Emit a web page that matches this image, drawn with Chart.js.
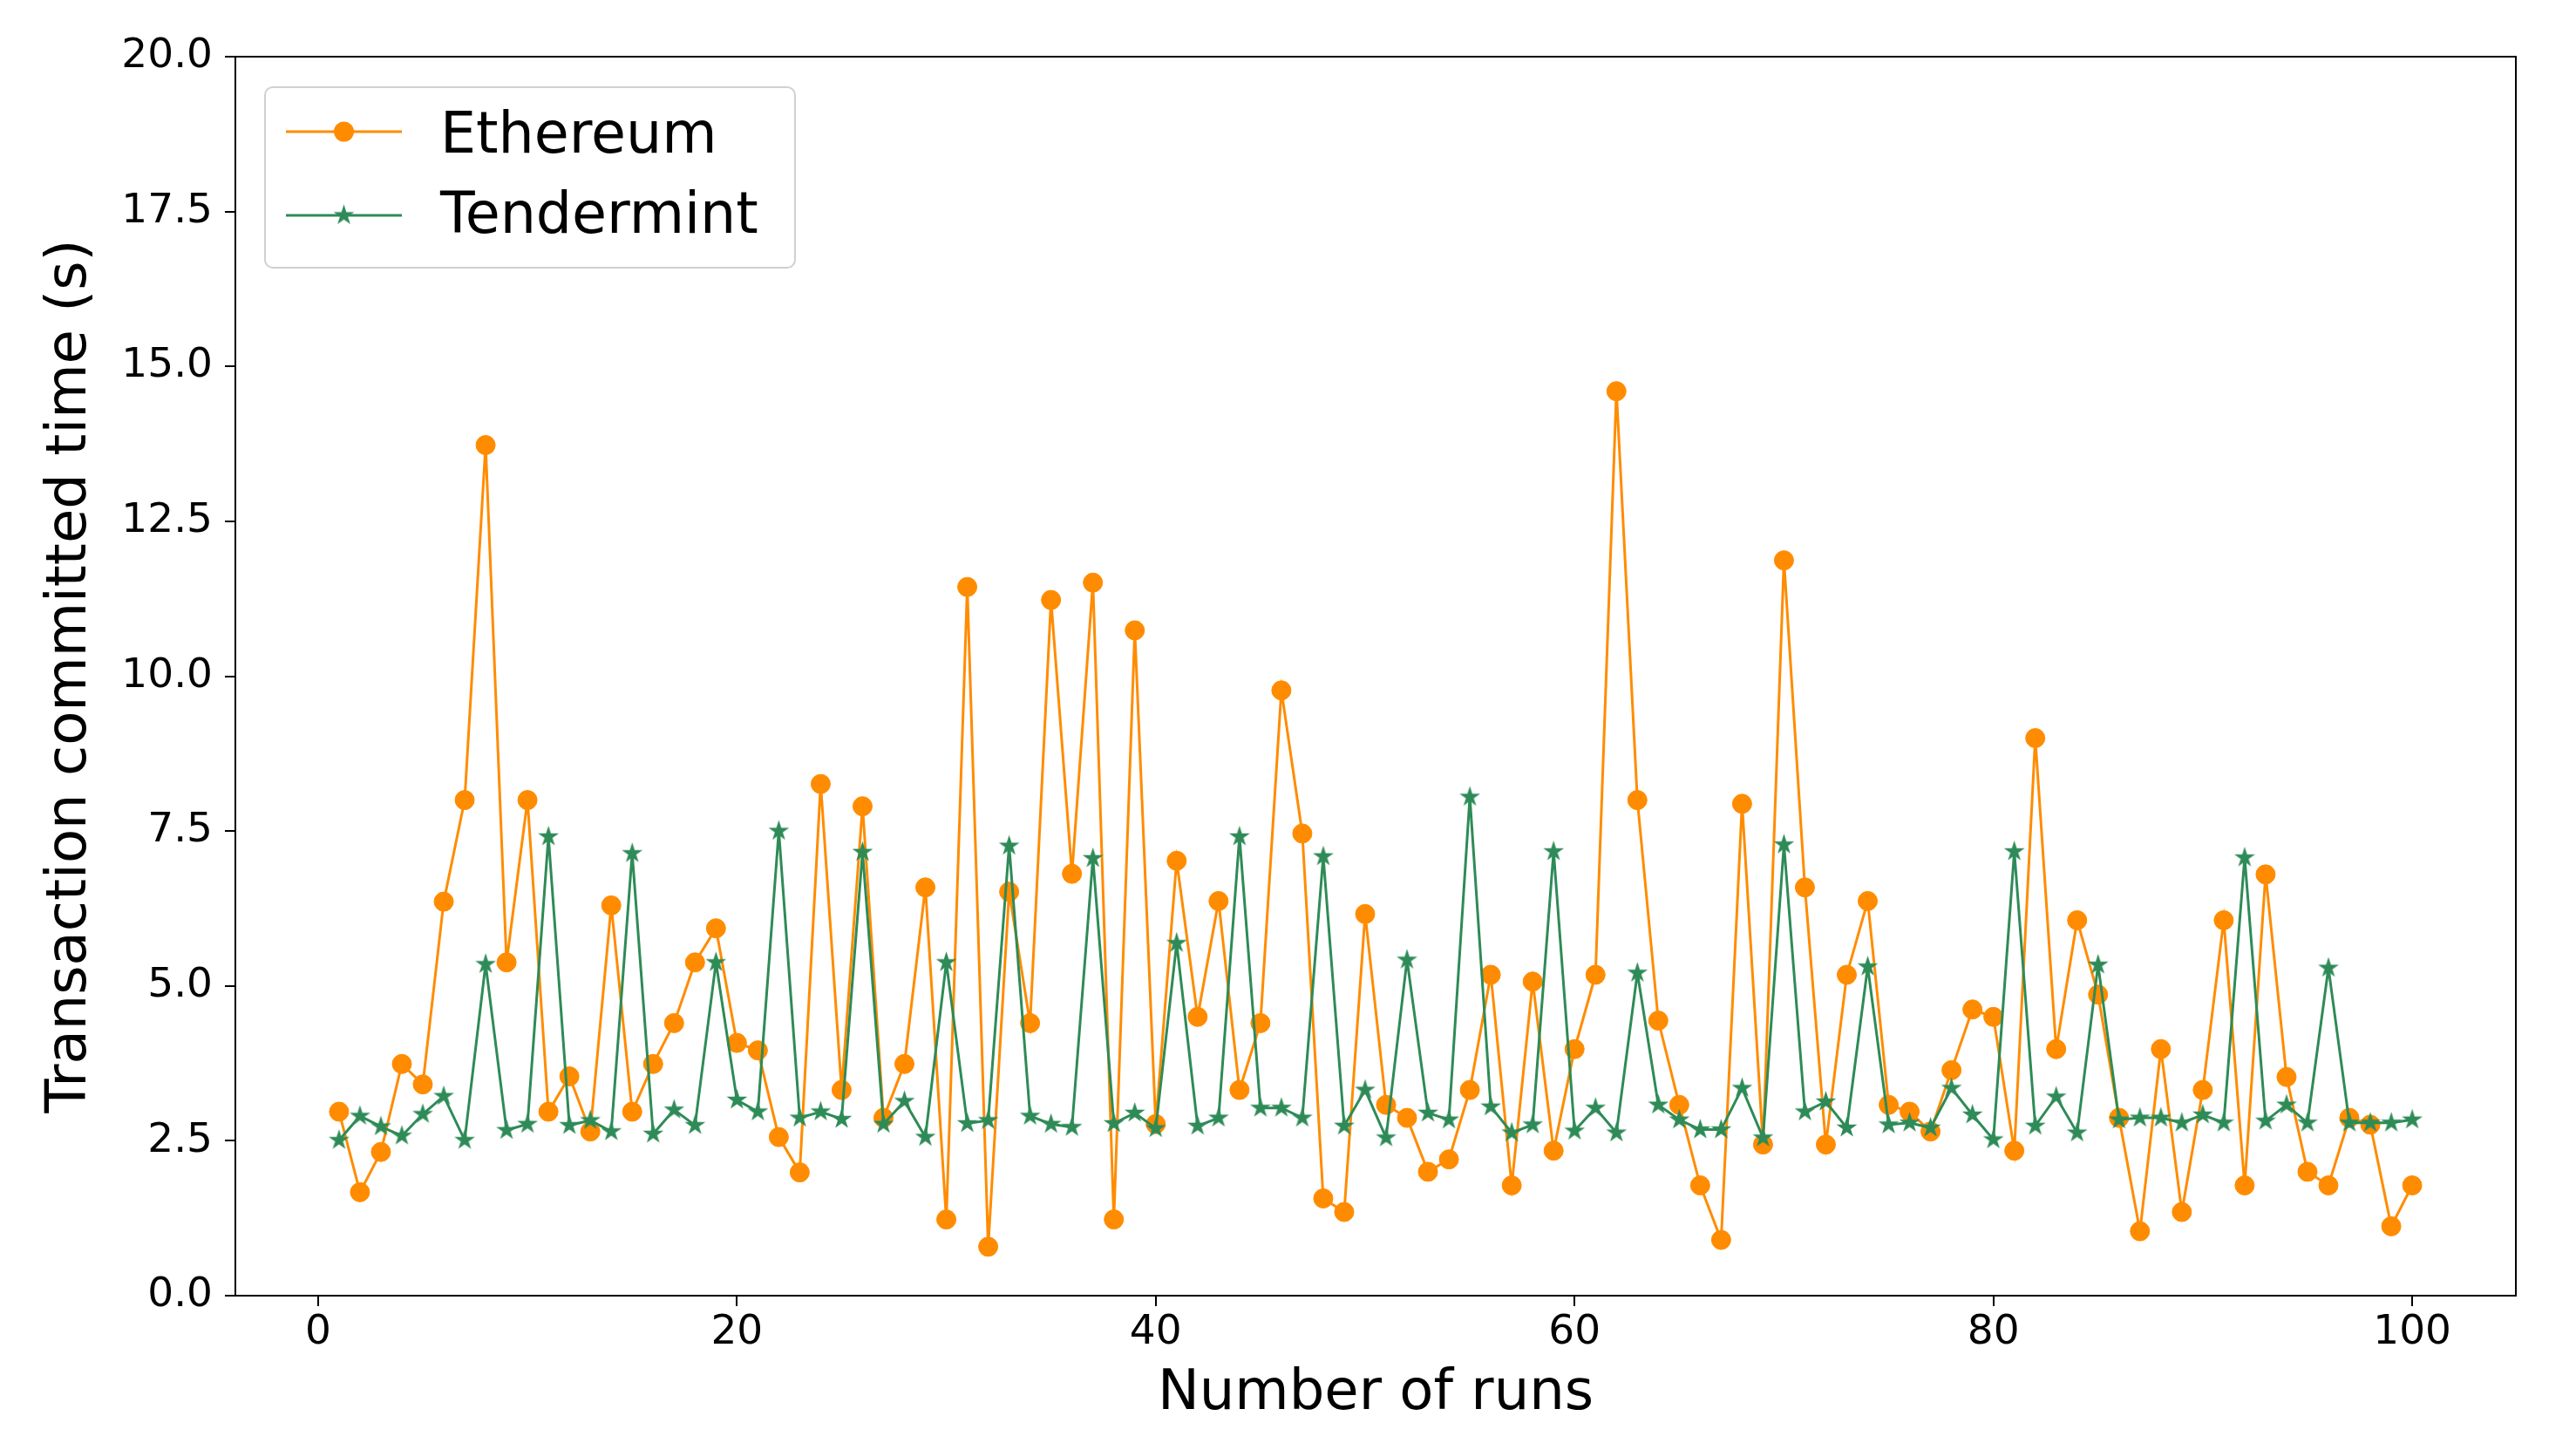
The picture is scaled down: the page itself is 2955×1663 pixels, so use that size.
<!DOCTYPE html>
<html>
<head>
<meta charset="utf-8">
<script src="https://cdn.jsdelivr.net/npm/chart.js@4/dist/chart.umd.min.js"></script>
<style>
  html, body { margin: 0; padding: 0; background: #fff; }
  #chart { display: block; }
</style>
</head>
<body>
<canvas id="chart" width="2955" height="1663"></canvas>
<script>
// ── Data ───────────────────────────────────────────────────
const runs = [
  1, 2, 3, 4, 5, 6, 7, 8, 9, 10, 11, 12, 13, 14, 15, 16, 17, 18, 19, 20,
  21, 22, 23, 24, 25, 26, 27, 28, 29, 30, 31, 32, 33, 34, 35, 36, 37, 38, 39, 40,
  41, 42, 43, 44, 45, 46, 47, 48, 49, 50, 51, 52, 53, 54, 55, 56, 57, 58, 59, 60,
  61, 62, 63, 64, 65, 66, 67, 68, 69, 70, 71, 72, 73, 74, 75, 76, 77, 78, 79, 80,
  81, 82, 83, 84, 85, 86, 87, 88, 89, 90, 91, 92, 93, 94, 95, 96, 97, 98, 99, 100
];

const ethereum = [
  2.97, 1.67, 2.32, 3.74, 3.41, 6.36, 8.00, 13.73, 5.38, 8.00,
  2.97, 3.54, 2.65, 6.30, 2.97, 3.74, 4.40, 5.38, 5.93, 4.08,
  3.96, 2.56, 1.99, 8.26, 3.32, 7.90, 2.87, 3.74, 6.59, 1.23,
  11.44, 0.79, 6.52, 4.40, 11.23, 6.81, 11.51, 1.23, 10.74, 2.77,
  7.02, 4.50, 6.37, 3.32, 4.40, 9.77, 7.46, 1.57, 1.35, 6.16,
  3.08, 2.87, 2.00, 2.20, 3.32, 5.18, 1.78, 5.07, 2.34, 3.98,
  5.18, 14.60, 8.00, 4.44, 3.08, 1.78, 0.90, 7.94, 2.44, 11.87,
  6.59, 2.44, 5.18, 6.37, 3.08, 2.97, 2.65, 3.64, 4.62, 4.50,
  2.34, 9.00, 3.98, 6.06, 4.86, 2.87, 1.04, 3.98, 1.35, 3.32,
  6.06, 1.78, 6.80, 3.53, 2.00, 1.78, 2.87, 2.76, 1.12, 1.78
];

const tendermint = [
  2.51, 2.90, 2.73, 2.58, 2.93, 3.22, 2.51, 5.35, 2.67, 2.77,
  7.41, 2.75, 2.83, 2.65, 7.14, 2.61, 3.00, 2.75, 5.38, 3.16,
  2.97, 7.50, 2.87, 2.97, 2.85, 7.16, 2.77, 3.14, 2.56, 5.38,
  2.78, 2.83, 7.26, 2.90, 2.77, 2.72, 7.06, 2.78, 2.95, 2.70,
  5.69, 2.74, 2.87, 7.41, 3.03, 3.03, 2.87, 7.09, 2.74, 3.32,
  2.55, 5.42, 2.95, 2.84, 8.05, 3.05, 2.63, 2.76, 7.17, 2.66,
  3.03, 2.63, 5.21, 3.08, 2.84, 2.68, 2.68, 3.35, 2.55, 7.28,
  2.97, 3.13, 2.71, 5.31, 2.76, 2.79, 2.71, 3.35, 2.92, 2.52,
  7.17, 2.74, 3.21, 2.63, 5.34, 2.84, 2.87, 2.87, 2.79, 2.92,
  2.79, 7.07, 2.82, 3.08, 2.79, 5.29, 2.79, 2.79, 2.79, 2.84
];

const xTicks = [0, 20, 40, 60, 80, 100];
const yTicks = [0, 2.5, 5, 7.5, 10, 12.5, 15, 17.5, 20];

// ── Styles ─────────────────────────────────────────────────
const ORANGE = '#ff8c00';
const GREEN  = '#2e8b57';
const FONT   = "'DejaVu Sans', sans-serif";

// filled 5-point star like matplotlib's '*'
function starImage(color, r) {
  const c = document.createElement('canvas');
  const s = Math.ceil(r * 2) + 4;
  c.width = c.height = s;
  const g = c.getContext('2d');
  g.fillStyle = color;
  g.beginPath();
  for (let i = 0; i < 10; i++) {
    const rad = i % 2 === 0 ? r : r * 0.382;
    const a = -Math.PI / 2 + i * Math.PI / 5;
    g.lineTo(s / 2 + rad * Math.cos(a), s / 2 + rad * Math.sin(a));
  }
  g.closePath();
  g.fill();
  return c;
}
const star = starImage(GREEN, 12.5);

const toPoints = vals => runs.map((r, i) => ({ x: r, y: vals[i] }));

// ── Plugins: frame + legend ────────────────────────────────
const framePlugin = {
  id: 'frame',
  afterDatasetsDraw(chart) {
    const { ctx, chartArea: a } = chart;
    ctx.save();
    ctx.strokeStyle = '#000';
    ctx.lineWidth = 2;
    ctx.strokeRect(a.left, a.top, a.right - a.left, a.bottom - a.top);
    ctx.restore();
  }
};

const legendPlugin = {
  id: 'boxLegend',
  afterDraw(chart) {
    const { ctx } = chart;
    const ds = chart.data.datasets;
    ctx.save();
    // box
    const bx = 304, by = 100, bw = 608, bh = 207, rr = 9;
    ctx.fillStyle = 'rgba(255,255,255,0.8)';
    ctx.strokeStyle = '#d0d0d0';
    ctx.lineWidth = 2;
    ctx.beginPath();
    ctx.roundRect(bx, by, bw, bh, rr);
    ctx.fill();
    ctx.stroke();

    const lineY = [151, 247];
    const textY = [175, 267];
    ds.forEach((d, i) => {
      const y = lineY[i];
      ctx.strokeStyle = d.borderColor;
      ctx.lineWidth = 3;
      ctx.beginPath();
      ctx.moveTo(328, y);
      ctx.lineTo(461, y);
      ctx.stroke();
      if (d.pointStyle === 'circle') {
        ctx.fillStyle = d.pointBackgroundColor;
        ctx.beginPath();
        ctx.arc(394.5, y, 11.5, 0, Math.PI * 2);
        ctx.fill();
      } else {
        ctx.drawImage(d.pointStyle, 394.5 - d.pointStyle.width / 2, y - d.pointStyle.height / 2);
      }
      ctx.fillStyle = '#000';
      ctx.font = '65px ' + FONT;
      ctx.textBaseline = 'alphabetic';
      ctx.textAlign = 'left';
      ctx.fillText(d.label, 505, textY[i]);
    });
    ctx.restore();
  }
};

// ── Chart ──────────────────────────────────────────────────
new Chart(document.getElementById('chart'), {
  type: 'line',
  data: {
    datasets: [
      {
        label: 'Ethereum', data: toPoints(ethereum), order: 2,
        borderColor: ORANGE, backgroundColor: ORANGE, borderWidth: 3,
        pointStyle: 'circle', pointRadius: 11, pointBackgroundColor: ORANGE,
        pointBorderColor: ORANGE, pointBorderWidth: 1, tension: 0, fill: false
      },
      {
        label: 'Tendermint', data: toPoints(tendermint), order: 1,
        borderColor: GREEN, backgroundColor: GREEN, borderWidth: 3,
        pointStyle: star, pointRadius: 12, pointBackgroundColor: GREEN,
        pointBorderColor: GREEN, tension: 0, fill: false
      }
    ]
  },
  options: {
    responsive: false,
    animation: false,
    devicePixelRatio: 1,
    layout: { padding: { top: 65, right: 69, left: 0, bottom: 0 } },
    plugins: { legend: { display: false }, tooltip: { enabled: false } },
    scales: {
      x: {
        type: 'linear', min: -3.95, max: 104.95,
        afterBuildTicks: s => { s.ticks = xTicks.map(v => ({ value: v })); },
        afterFit: s => { s.height = 177; },
        grid: { display: true, drawOnChartArea: false, drawTicks: true, tickLength: 12, color: '#000', lineWidth: 2 },
        border: { display: false },
        ticks: { color: '#000', padding: 3, font: { family: FONT, size: 47 }, maxRotation: 0, callback: v => String(v) },
        title: { display: true, text: 'Number of runs', color: '#000', font: { family: FONT, size: 64 }, padding: { top: 0, bottom: 25 } }
      },
      y: {
        type: 'linear', min: 0, max: 20,
        afterBuildTicks: s => { s.ticks = yTicks.map(v => ({ value: v })); },
        afterFit: s => { s.width = 270; },
        grid: { display: true, drawOnChartArea: false, drawTicks: true, tickLength: 12, color: '#000', lineWidth: 2 },
        border: { display: false },
        ticks: { color: '#000', padding: 14, font: { family: FONT, size: 47 }, callback: v => v.toFixed(1) },
        title: { display: true, text: 'Transaction committed time (s)', color: '#000', font: { family: FONT, size: 64 }, padding: { top: 43, bottom: 0 } }
      }
    }
  },
  plugins: [framePlugin, legendPlugin]
});
</script>
</body>
</html>
